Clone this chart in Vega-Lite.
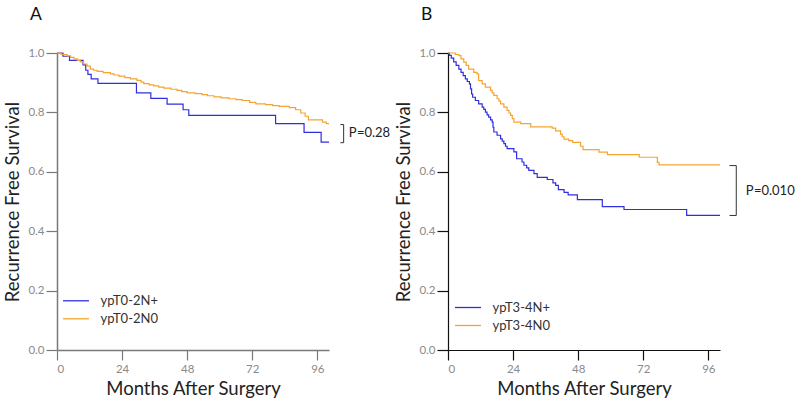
{
  "$schema": "https://vega.github.io/schema/vega-lite/v6.json",
  "padding": {"left": 3, "top": 5, "right": 0, "bottom": 0},
  "config": {
    "view": {"stroke": null},
    "font": "Lato",
    "axis": {"grid": false, "labelFont": "Lato", "titleFont": "Lato", "labelFontSize": 11.5, "labelColor": "#8a8a8a", "titleFontSize": 18.5, "titleFontWeight": "normal", "titleColor": "#222222"},
    "legend": {"labelFont": "Lato", "labelFontSize": 13, "labelColor": "#333333"},
    "title": {"font": "Lato", "fontSize": 17.5, "fontWeight": "normal", "color": "#111111", "anchor": "start", "frame": "group", "baseline": "alphabetic"}
  },
  "datasets": {
    "curvesA": [
      {"group": "ypT0-2N+", "month": 0, "surv": 1.0},
      {"group": "ypT0-2N+", "month": 2.2, "surv": 0.989},
      {"group": "ypT0-2N+", "month": 4.6, "surv": 0.975},
      {"group": "ypT0-2N+", "month": 9.6, "surv": 0.960},
      {"group": "ypT0-2N+", "month": 10.6, "surv": 0.942},
      {"group": "ypT0-2N+", "month": 11.4, "surv": 0.928},
      {"group": "ypT0-2N+", "month": 12.6, "surv": 0.913},
      {"group": "ypT0-2N+", "month": 15.1, "surv": 0.898},
      {"group": "ypT0-2N+", "month": 29.3, "surv": 0.866},
      {"group": "ypT0-2N+", "month": 34.6, "surv": 0.847},
      {"group": "ypT0-2N+", "month": 40.6, "surv": 0.828},
      {"group": "ypT0-2N+", "month": 46.5, "surv": 0.809},
      {"group": "ypT0-2N+", "month": 48.6, "surv": 0.790},
      {"group": "ypT0-2N+", "month": 80.6, "surv": 0.762},
      {"group": "ypT0-2N+", "month": 91.1, "surv": 0.733},
      {"group": "ypT0-2N+", "month": 97.4, "surv": 0.700},
      {"group": "ypT0-2N+", "month": 100.3, "surv": 0.700},
      {"group": "ypT0-2N0", "month": 0, "surv": 1.0},
      {"group": "ypT0-2N0", "month": 1.5, "surv": 0.995},
      {"group": "ypT0-2N0", "month": 3.7, "surv": 0.990},
      {"group": "ypT0-2N0", "month": 5.0, "surv": 0.985},
      {"group": "ypT0-2N0", "month": 6.2, "surv": 0.980},
      {"group": "ypT0-2N0", "month": 7.5, "surv": 0.975},
      {"group": "ypT0-2N0", "month": 8.6, "surv": 0.970},
      {"group": "ypT0-2N0", "month": 9.8, "surv": 0.963},
      {"group": "ypT0-2N0", "month": 11.1, "surv": 0.956},
      {"group": "ypT0-2N0", "month": 12.3, "surv": 0.946},
      {"group": "ypT0-2N0", "month": 13.5, "surv": 0.942},
      {"group": "ypT0-2N0", "month": 14.8, "surv": 0.938},
      {"group": "ypT0-2N0", "month": 17.0, "surv": 0.934},
      {"group": "ypT0-2N0", "month": 19.7, "surv": 0.930},
      {"group": "ypT0-2N0", "month": 21.0, "surv": 0.926},
      {"group": "ypT0-2N0", "month": 22.8, "surv": 0.922},
      {"group": "ypT0-2N0", "month": 25.0, "surv": 0.917},
      {"group": "ypT0-2N0", "month": 27.1, "surv": 0.913},
      {"group": "ypT0-2N0", "month": 29.5, "surv": 0.908},
      {"group": "ypT0-2N0", "month": 31.0, "surv": 0.902},
      {"group": "ypT0-2N0", "month": 32.0, "surv": 0.897},
      {"group": "ypT0-2N0", "month": 34.0, "surv": 0.893},
      {"group": "ypT0-2N0", "month": 35.7, "surv": 0.889},
      {"group": "ypT0-2N0", "month": 37.5, "surv": 0.885},
      {"group": "ypT0-2N0", "month": 39.4, "surv": 0.882},
      {"group": "ypT0-2N0", "month": 42.0, "surv": 0.878},
      {"group": "ypT0-2N0", "month": 44.3, "surv": 0.874},
      {"group": "ypT0-2N0", "month": 46.0, "surv": 0.870},
      {"group": "ypT0-2N0", "month": 48.0, "surv": 0.866},
      {"group": "ypT0-2N0", "month": 51.0, "surv": 0.863},
      {"group": "ypT0-2N0", "month": 53.5, "surv": 0.860},
      {"group": "ypT0-2N0", "month": 55.5, "surv": 0.856},
      {"group": "ypT0-2N0", "month": 57.9, "surv": 0.852},
      {"group": "ypT0-2N0", "month": 60.5, "surv": 0.849},
      {"group": "ypT0-2N0", "month": 63.4, "surv": 0.846},
      {"group": "ypT0-2N0", "month": 66.0, "surv": 0.843},
      {"group": "ypT0-2N0", "month": 68.3, "surv": 0.840},
      {"group": "ypT0-2N0", "month": 71.0, "surv": 0.834},
      {"group": "ypT0-2N0", "month": 73.3, "surv": 0.829},
      {"group": "ypT0-2N0", "month": 76.9, "surv": 0.826},
      {"group": "ypT0-2N0", "month": 79.5, "surv": 0.823},
      {"group": "ypT0-2N0", "month": 81.9, "surv": 0.820},
      {"group": "ypT0-2N0", "month": 85.6, "surv": 0.816},
      {"group": "ypT0-2N0", "month": 88.0, "surv": 0.809},
      {"group": "ypT0-2N0", "month": 89.9, "surv": 0.798},
      {"group": "ypT0-2N0", "month": 91.5, "surv": 0.787},
      {"group": "ypT0-2N0", "month": 92.7, "surv": 0.775},
      {"group": "ypT0-2N0", "month": 97.9, "surv": 0.767},
      {"group": "ypT0-2N0", "month": 99.3, "surv": 0.762},
      {"group": "ypT0-2N0", "month": 100.3, "surv": 0.762}
    ],
    "curvesB": [
      {"group": "ypT3-4N+", "month": 0, "surv": 1.0},
      {"group": "ypT3-4N+", "month": 0.5, "surv": 0.992},
      {"group": "ypT3-4N+", "month": 1.2, "surv": 0.983},
      {"group": "ypT3-4N+", "month": 2.1, "surv": 0.970},
      {"group": "ypT3-4N+", "month": 3.0, "surv": 0.958},
      {"group": "ypT3-4N+", "month": 4.0, "surv": 0.946},
      {"group": "ypT3-4N+", "month": 4.8, "surv": 0.935},
      {"group": "ypT3-4N+", "month": 5.6, "surv": 0.924},
      {"group": "ypT3-4N+", "month": 6.4, "surv": 0.913},
      {"group": "ypT3-4N+", "month": 7.1, "surv": 0.904},
      {"group": "ypT3-4N+", "month": 7.9, "surv": 0.896},
      {"group": "ypT3-4N+", "month": 8.3, "surv": 0.879},
      {"group": "ypT3-4N+", "month": 8.7, "surv": 0.862},
      {"group": "ypT3-4N+", "month": 9.1, "surv": 0.851},
      {"group": "ypT3-4N+", "month": 10.1, "surv": 0.840},
      {"group": "ypT3-4N+", "month": 11.3, "surv": 0.829},
      {"group": "ypT3-4N+", "month": 12.6, "surv": 0.818},
      {"group": "ypT3-4N+", "month": 13.2, "surv": 0.810},
      {"group": "ypT3-4N+", "month": 13.8, "surv": 0.801},
      {"group": "ypT3-4N+", "month": 14.4, "surv": 0.792},
      {"group": "ypT3-4N+", "month": 15.0, "surv": 0.784},
      {"group": "ypT3-4N+", "month": 15.7, "surv": 0.775},
      {"group": "ypT3-4N+", "month": 16.3, "surv": 0.767},
      {"group": "ypT3-4N+", "month": 16.6, "surv": 0.750},
      {"group": "ypT3-4N+", "month": 16.9, "surv": 0.734},
      {"group": "ypT3-4N+", "month": 18.1, "surv": 0.723},
      {"group": "ypT3-4N+", "month": 19.4, "surv": 0.711},
      {"group": "ypT3-4N+", "month": 20.0, "surv": 0.703},
      {"group": "ypT3-4N+", "month": 20.6, "surv": 0.695},
      {"group": "ypT3-4N+", "month": 21.2, "surv": 0.686},
      {"group": "ypT3-4N+", "month": 21.8, "surv": 0.678},
      {"group": "ypT3-4N+", "month": 24.3, "surv": 0.667},
      {"group": "ypT3-4N+", "month": 25.3, "surv": 0.644},
      {"group": "ypT3-4N+", "month": 27.3, "surv": 0.633},
      {"group": "ypT3-4N+", "month": 28.0, "surv": 0.622},
      {"group": "ypT3-4N+", "month": 29.0, "surv": 0.613},
      {"group": "ypT3-4N+", "month": 29.8, "surv": 0.605},
      {"group": "ypT3-4N+", "month": 31.7, "surv": 0.594},
      {"group": "ypT3-4N+", "month": 32.9, "surv": 0.581},
      {"group": "ypT3-4N+", "month": 36.6, "surv": 0.574},
      {"group": "ypT3-4N+", "month": 38.7, "surv": 0.563},
      {"group": "ypT3-4N+", "month": 39.7, "surv": 0.554},
      {"group": "ypT3-4N+", "month": 40.7, "surv": 0.540},
      {"group": "ypT3-4N+", "month": 42.8, "surv": 0.531},
      {"group": "ypT3-4N+", "month": 44.3, "surv": 0.522},
      {"group": "ypT3-4N+", "month": 47.7, "surv": 0.506},
      {"group": "ypT3-4N+", "month": 56.9, "surv": 0.483},
      {"group": "ypT3-4N+", "month": 64.9, "surv": 0.473},
      {"group": "ypT3-4N+", "month": 88.0, "surv": 0.453},
      {"group": "ypT3-4N+", "month": 100.3, "surv": 0.453},
      {"group": "ypT3-4N0", "month": 0, "surv": 1.0},
      {"group": "ypT3-4N0", "month": 2.7, "surv": 0.995},
      {"group": "ypT3-4N0", "month": 4.0, "surv": 0.991},
      {"group": "ypT3-4N0", "month": 4.8, "surv": 0.980},
      {"group": "ypT3-4N0", "month": 5.8, "surv": 0.969},
      {"group": "ypT3-4N0", "month": 6.7, "surv": 0.958},
      {"group": "ypT3-4N0", "month": 7.6, "surv": 0.946},
      {"group": "ypT3-4N0", "month": 9.5, "surv": 0.935},
      {"group": "ypT3-4N0", "month": 10.7, "surv": 0.930},
      {"group": "ypT3-4N0", "month": 11.3, "surv": 0.907},
      {"group": "ypT3-4N0", "month": 12.6, "surv": 0.896},
      {"group": "ypT3-4N0", "month": 13.8, "surv": 0.885},
      {"group": "ypT3-4N0", "month": 15.7, "surv": 0.874},
      {"group": "ypT3-4N0", "month": 16.3, "surv": 0.866},
      {"group": "ypT3-4N0", "month": 16.9, "surv": 0.857},
      {"group": "ypT3-4N0", "month": 18.1, "surv": 0.846},
      {"group": "ypT3-4N0", "month": 18.8, "surv": 0.838},
      {"group": "ypT3-4N0", "month": 19.4, "surv": 0.829},
      {"group": "ypT3-4N0", "month": 20.6, "surv": 0.818},
      {"group": "ypT3-4N0", "month": 21.8, "surv": 0.807},
      {"group": "ypT3-4N0", "month": 22.5, "surv": 0.798},
      {"group": "ypT3-4N0", "month": 23.1, "surv": 0.790},
      {"group": "ypT3-4N0", "month": 23.7, "surv": 0.779},
      {"group": "ypT3-4N0", "month": 24.3, "surv": 0.767},
      {"group": "ypT3-4N0", "month": 26.8, "surv": 0.762},
      {"group": "ypT3-4N0", "month": 30.5, "surv": 0.751},
      {"group": "ypT3-4N0", "month": 38.4, "surv": 0.747},
      {"group": "ypT3-4N0", "month": 39.7, "surv": 0.738},
      {"group": "ypT3-4N0", "month": 41.5, "surv": 0.727},
      {"group": "ypT3-4N0", "month": 42.1, "surv": 0.718},
      {"group": "ypT3-4N0", "month": 42.8, "surv": 0.710},
      {"group": "ypT3-4N0", "month": 44.5, "surv": 0.705},
      {"group": "ypT3-4N0", "month": 46.0, "surv": 0.699},
      {"group": "ypT3-4N0", "month": 48.9, "surv": 0.686},
      {"group": "ypT3-4N0", "month": 49.8, "surv": 0.675},
      {"group": "ypT3-4N0", "month": 55.7, "surv": 0.666},
      {"group": "ypT3-4N0", "month": 58.8, "surv": 0.658},
      {"group": "ypT3-4N0", "month": 70.5, "surv": 0.649},
      {"group": "ypT3-4N0", "month": 77.2, "surv": 0.632},
      {"group": "ypT3-4N0", "month": 77.8, "surv": 0.623},
      {"group": "ypT3-4N0", "month": 100.3, "surv": 0.623}
    ]
  },
  "bounds": "flush",
  "spacing": 119,
  "resolve": {"scale": {"color": "independent"}},
  "hconcat": [
    {
      "width": 272,
      "height": 297,
      "title": {"text": "A", "dx": -27, "offset": 23.7},
      "layer": [
        {
          "data": {"name": "curvesA"},
          "mark": {"type": "line", "interpolate": "step-after", "strokeWidth": 1.2},
          "encoding": {
            "x": {"field": "month", "type": "quantitative", "scale": {"domain": [0, 100.3], "nice": false, "zero": false},
              "axis": {"values": [0, 24, 48, 72, 96], "title": "Months After Surgery", "domainColor": "#7a7a7a", "domainWidth": 1.5, "tickColor": "#7a7a7a", "tickWidth": 1.2, "tickSize": 10, "labelPadding": 3, "titlePadding": 5}},
            "y": {"field": "surv", "type": "quantitative", "scale": {"domain": [0, 1], "nice": false},
              "axis": {"values": [0, 0.2, 0.4, 0.6, 0.8, 1.0], "format": ".1f", "title": "Recurrence Free Survival", "domainColor": "#7a7a7a", "domainWidth": 1.5, "tickColor": "#7a7a7a", "tickWidth": 1.2, "tickSize": 11, "labelPadding": 2, "titlePadding": 5}},
            "color": {"field": "group", "type": "nominal", "sort": ["ypT0-2N+", "ypT0-2N0"],
              "scale": {"domain": ["ypT0-2N+", "ypT0-2N0"], "range": ["#2f2fe0", "#f6a431"]},
              "legend": {"title": null, "orient": "none", "legendX": 12.5, "legendY": 241.3, "symbolType": "M-3,0H3", "symbolSize": 75, "symbolStrokeWidth": 1.3, "rowPadding": 4, "labelOffset": 18}}
          }
        },
        {
          "data": {"values": [
            {"xa": 104.5, "xb": 105.7, "ya": 0.759, "yb": 0.759},
            {"xa": 104.5, "xb": 105.7, "ya": 0.698, "yb": 0.698},
            {"xa": 105.7, "xb": 105.7, "ya": 0.698, "yb": 0.759}
          ]},
          "mark": {"type": "rule", "color": "#333333", "strokeWidth": 1},
          "encoding": {
            "x": {"field": "xa", "type": "quantitative"},
            "x2": {"field": "xb"},
            "y": {"field": "ya", "type": "quantitative"},
            "y2": {"field": "yb"}
          }
        },
        {
          "data": {"values": [
            {"tx": 107.6, "ty": 0.729, "label": "P", "style": "italic"},
            {"tx": 110.6, "ty": 0.729, "label": "=0.28", "style": "normal"}
          ]},
          "mark": {"type": "text", "align": "left", "baseline": "middle", "fontSize": 13, "color": "#222222", "font": "Lato"},
          "encoding": {
            "x": {"field": "tx", "type": "quantitative"},
            "y": {"field": "ty", "type": "quantitative"},
            "text": {"field": "label"},
            "fontStyle": {"field": "style", "type": "nominal", "scale": null}
          }
        }
      ]
    },
    {
      "width": 272,
      "height": 297,
      "title": {"text": "B", "dx": -27, "offset": 23.7},
      "layer": [
        {
          "data": {"name": "curvesB"},
          "mark": {"type": "line", "interpolate": "step-after", "strokeWidth": 1.2},
          "encoding": {
            "x": {"field": "month", "type": "quantitative", "scale": {"domain": [0, 100.3], "nice": false, "zero": false},
              "axis": {"values": [0, 24, 48, 72, 96], "title": "Months After Surgery", "domainColor": "#111111", "domainWidth": 1.2, "tickColor": "#111111", "tickWidth": 1.2, "tickSize": 10, "labelPadding": 3, "titlePadding": 5}},
            "y": {"field": "surv", "type": "quantitative", "scale": {"domain": [0, 1], "nice": false},
              "axis": {"values": [0, 0.2, 0.4, 0.6, 0.8, 1.0], "format": ".1f", "title": "Recurrence Free Survival", "domainColor": "#111111", "domainWidth": 1.2, "tickColor": "#111111", "tickWidth": 1.2, "tickSize": 11, "labelPadding": 2, "titlePadding": 5}},
            "color": {"field": "group", "type": "nominal", "sort": ["ypT3-4N+", "ypT3-4N0"],
              "scale": {"domain": ["ypT3-4N+", "ypT3-4N0"], "range": ["#2f2fe0", "#f6a431"]},
              "legend": {"title": null, "orient": "none", "legendX": 13.5, "legendY": 248, "symbolType": "M-3,0H3", "symbolSize": 75, "symbolStrokeWidth": 1.3, "rowPadding": 4, "labelOffset": 18}}
          }
        },
        {
          "data": {"values": [
            {"xa": 103.8, "xb": 106.3, "ya": 0.621, "yb": 0.621},
            {"xa": 103.8, "xb": 106.3, "ya": 0.453, "yb": 0.453},
            {"xa": 106.3, "xb": 106.3, "ya": 0.453, "yb": 0.621}
          ]},
          "mark": {"type": "rule", "color": "#333333", "strokeWidth": 1},
          "encoding": {
            "x": {"field": "xa", "type": "quantitative"},
            "x2": {"field": "xb"},
            "y": {"field": "ya", "type": "quantitative"},
            "y2": {"field": "yb"}
          }
        },
        {
          "data": {"values": [
            {"tx": 109.8, "ty": 0.537, "label": "P", "style": "italic"},
            {"tx": 112.8, "ty": 0.537, "label": "=0.010", "style": "normal"}
          ]},
          "mark": {"type": "text", "align": "left", "baseline": "middle", "fontSize": 13, "color": "#222222", "font": "Lato"},
          "encoding": {
            "x": {"field": "tx", "type": "quantitative"},
            "y": {"field": "ty", "type": "quantitative"},
            "text": {"field": "label"},
            "fontStyle": {"field": "style", "type": "nominal", "scale": null}
          }
        }
      ]
    }
  ]
}
